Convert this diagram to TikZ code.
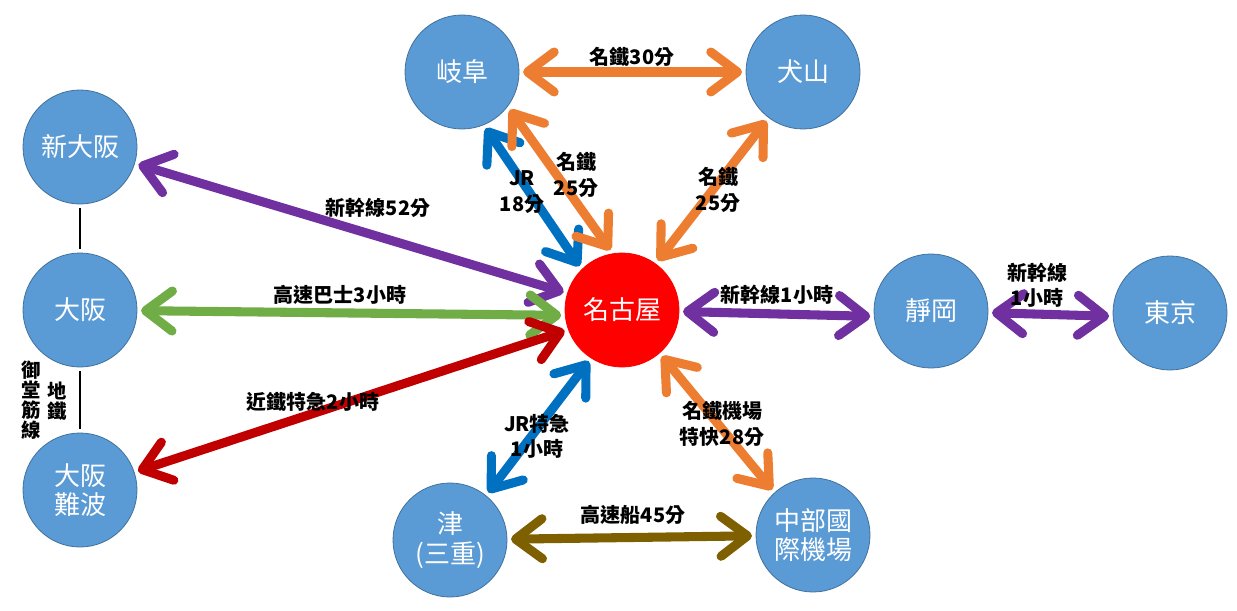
\documentclass[tikz,border=0pt]{standalone}
\usepackage{fontspec}
\newfontfamily\cjk{Noto Sans CJK TC}
\usetikzlibrary{arrows.meta}
\definecolor{nodeblue}{HTML}{5B9BD5}
\definecolor{nodeedge}{HTML}{41719C}
\definecolor{cOrange}{HTML}{ED7D31}
\definecolor{cBlue}{HTML}{0070C0}
\definecolor{cPurple}{HTML}{7030A0}
\definecolor{cGreen}{HTML}{70AD47}
\definecolor{cRed}{HTML}{C00000}
\definecolor{cOlive}{HTML}{7F6000}
\tikzset{
  city/.style={circle, fill=nodeblue, draw=nodeedge, line width=0.6pt,
    minimum size=85.5pt, inner sep=0pt, outer sep=3pt, text=white,
    font=\cjk\fontsize{19.5}{22}\selectfont, align=center},
  hub/.style={city, fill=red, draw=red},
  link/.style={line width=6.8pt,
    {Straight Barb[length=20pt,width=30pt,round]}-{Straight Barb[length=20pt,width=30pt,round]}},
  lbl/.style={font=\cjk\bfseries\fontsize{15}{19}\selectfont, align=center, inner sep=0pt},
  plain/.style={line width=1pt, black}
}
\begin{document}
\begin{tikzpicture}[x=0.75pt,y=-0.75pt]
\useasboundingbox (0,0) rectangle (1237,610);
% nodes
\node[city] (gifu) at (462,72) {岐阜};
\node[city] (inuyama) at (803,72) {犬山};
\node[city] (shinosaka) at (80,147) {新大阪};
\node[city] (osaka) at (80,310) {大阪};
\node[city] (namba) at (80,490) {大阪\\難波};
\node[hub] (nagoya) at (622,310) {名古屋};
\node[city] (shizuoka) at (931,311) {靜岡};
\node[city] (tokyo) at (1170,313) {東京};
\node[city] (tsu) at (450,540) {津\\(三重)};
\node[city] (chubu) at (813,535) {中部國\\際機場};
% subway lines
\draw[plain] (shinosaka) -- (osaka);
\draw[plain] (osaka) -- (namba);
% links
\draw[link, cOrange] (gifu) -- (inuyama);
\draw[link, cBlue] (gifu.-67) -- (nagoya.134);
\draw[link, cOrange] (gifu.-38) -- (nagoya.101);
\draw[link, cOrange] (inuyama.-127) -- (nagoya.54);
\draw[link, cPurple] (shinosaka) -- (nagoya.163);
\draw[link, cGreen] (osaka) -- (nagoya.-175);
\draw[link, cRed] (namba) -- (nagoya.-160);
\draw[link, cPurple] (nagoya) -- (shizuoka.-175);
\draw[link, cPurple] (shizuoka) -- (tokyo.-177);
\draw[link, cBlue] (nagoya.-123) -- (tsu.51);
\draw[link, cOrange] (nagoya.-49) -- (chubu.132);
\draw[link, cOlive] (tsu) -- (chubu);
% labels
\node[lbl] (l1) at (632,57) {名鐵30分};
\node[lbl] (l2) at (576,175) {名鐵\\25分};
\node[lbl] (l3) at (522,192) {JR\\18分};
\node[lbl] (l4) at (718,190) {名鐵\\25分};
\node[lbl] (l5) at (378,208) {新幹線52分};
\node[lbl] (l6) at (340,295) {高速巴士3小時};
\node[lbl] (l7) at (313,402) {近鐵特急2小時};
\node[lbl] (l8) at (537,436) {JR特急\\1小時};
\node[lbl] (l9) at (722,424) {名鐵機場\\特快28分};
\node[lbl] (l10) at (633,515) {高速船45分};
\node[lbl] (l11) at (777,295) {新幹線1小時};
\node[lbl] (l12) at (1037,285) {新幹線\\1小時};
\node[lbl, font=\cjk\bfseries\fontsize{14.5}{15}\selectfont] (v1) at (31,400) {御\\堂\\筋\\線};
\node[lbl, font=\cjk\bfseries\fontsize{14.5}{15}\selectfont] (v2) at (57,401) {地\\鐵};
\end{tikzpicture}
\end{document}
